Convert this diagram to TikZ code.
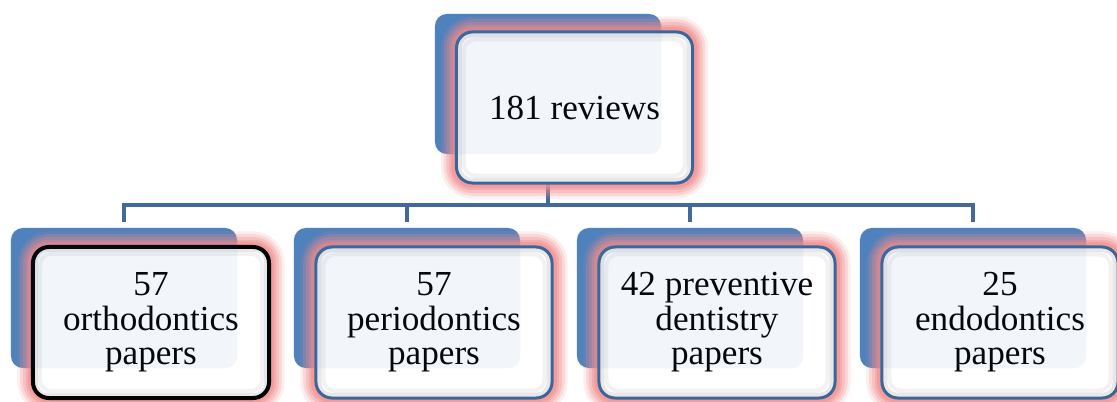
\documentclass[tikz,border=0pt]{standalone}
\usepackage{fontspec}
\setmainfont{Liberation Serif}
\usetikzlibrary{calc}
\definecolor{backblue}{HTML}{4F81BD}
\definecolor{edgeblue}{HTML}{3A679B}
\definecolor{linkblue}{HTML}{41699B}
\definecolor{glowpink}{HTML}{F08C8C}
\begin{document}
\begin{tikzpicture}[x=0.025cm, y=-0.025cm,
    back/.style={fill=backblue, rounded corners=0.3cm, minimum width=5.65cm, minimum height=3.5cm, inner sep=0pt},
    front/.style={fill=white, draw=edgeblue, line width=0.075cm, rounded corners=0.4cm,
        minimum width=5.9cm, minimum height=3.775cm, inner sep=0pt, align=center,
        font=\fontsize{25}{24.5}\selectfont,
        preaction={draw=glowpink, line width=0.78cm, draw opacity=.15},
        preaction={draw=glowpink, line width=0.64cm, draw opacity=.22},
        preaction={draw=glowpink, line width=0.5cm, draw opacity=.3},
        preaction={draw=glowpink, line width=0.36cm, draw opacity=.4},
        preaction={draw=glowpink, line width=0.24cm, draw opacity=.5}},
    picked/.style={draw=black, line width=0.1cm},
    rim/.style={draw=black, rounded corners=0.3cm},
    tint/.style={fill=backblue, opacity=.07, rounded corners=0.3cm},
    conn/.style={draw=linkblue, line width=0.1cm, shorten >=0.15cm}]
    \useasboundingbox (0,0) rectangle (1117,401);

    % back plates
    \node[back] (tb) at (548,84) {};
    \foreach \i in {1,...,4}
        \node[back] (b\i) at ({124+283*(\i-1)},298) {};

    % tree links
    \coordinate (bar) at (548,205);
    \foreach \i in {1,...,4}
        \draw[conn] (tb.south) -- (tb.south |- bar) -| (b\i.north);

    % front boxes
    \node[front] (top) at (574.5,107.5) {181 reviews};
    \node[front, picked] (f1) at (151,322.5) {57\\orthodontics\\papers};
    \node[front] (f2) at (434,322.5) {57\\periodontics\\papers};
    \node[front] (f3) at (717,322.5) {42 preventive\\dentistry\\papers};
    \node[front] (f4) at (1000,322.5) {25\\endodontics\\papers};

    % soft inner rim
    \foreach \n in {top,f1,f2,f3,f4} {
        \draw[rim, line width=0.1cm, draw opacity=.09] ([shift={(0.12cm,-0.12cm)}]\n.north west) rectangle ([shift={(-0.12cm,0.12cm)}]\n.south east);
        \draw[rim, line width=0.1cm, draw opacity=.05] ([shift={(0.22cm,-0.22cm)}]\n.north west) rectangle ([shift={(-0.22cm,0.22cm)}]\n.south east);
    }

    % light tint of the plates seen through
    \fill[tint] (tb.north west) rectangle (tb.south east);
    \foreach \i in {1,...,4}
        \fill[tint] (b\i.north west) rectangle (b\i.south east);
\end{tikzpicture}
\end{document}
